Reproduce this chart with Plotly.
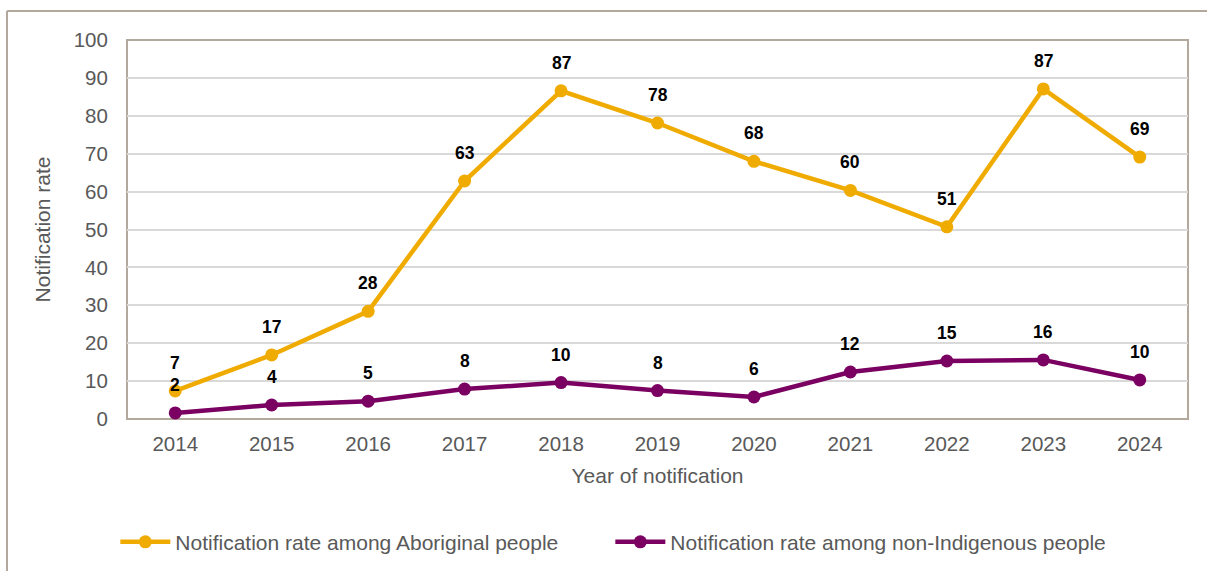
import plotly.graph_objects as go

# Notification rates by year of notification
years = ["2014", "2015", "2016", "2017", "2018", "2019", "2020", "2021", "2022", "2023", "2024"]
aboriginal_rate = [7.4, 16.9, 28.4, 62.8, 86.6, 78.1, 68.0, 60.3, 50.7, 87.1, 69.1]
non_indigenous_rate = [1.6, 3.7, 4.7, 7.9, 9.6, 7.5, 5.8, 12.4, 15.3, 15.6, 10.3]

series_names = [
    "Notification rate among Aboriginal people",
    "Notification rate among non-Indigenous people",
]
y_ticks = [0, 10, 20, 30, 40, 50, 60, 70, 80, 90, 100]

GOLD = "#F0AB00"
PURPLE = "#7A0062"
FRAME = "#B3A89C"
TEXT_GREY = "#595959"
FONT = "Liberation Sans, Arial, sans-serif"

fig = go.Figure()
for name, values, colour in [
    (series_names[0], aboriginal_rate, GOLD),
    (series_names[1], non_indigenous_rate, PURPLE),
]:
    fig.add_trace(go.Scatter(
        x=years, y=values, name=name, mode="lines+markers",
        line=dict(color=colour, width=4.5),
        marker=dict(color=colour, size=13),
        cliponaxis=False,
    ))
    # value labels above each point (category index on the x axis)
    for i, v in enumerate(values):
        fig.add_annotation(
            x=i, y=v, text=f"<b>{round(v)}</b>", showarrow=False,
            yshift=28, font=dict(family=FONT, size=17.5, color="#000000"),
        )

# outer frame around the figure area
fig.add_shape(type="line", xref="paper", yref="paper",
              x0=-0.1131, x1=1.03, y0=1.0765, y1=1.0765,
              line=dict(color=FRAME, width=2))
fig.add_shape(type="line", xref="paper", yref="paper",
              x0=-0.1131, x1=-0.1131, y0=1.0765, y1=-0.45,
              line=dict(color=FRAME, width=2))
# plot area border
fig.add_shape(type="rect", xref="paper", yref="paper",
              x0=0, x1=1, y0=0, y1=1, line=dict(color=FRAME, width=2),
              layer="below")

fig.update_layout(
    width=1207, height=571,
    margin=dict(l=127, r=19, t=40, b=152, autoexpand=False),
    paper_bgcolor="white", plot_bgcolor="white",
    font=dict(family=FONT, size=20.5, color=TEXT_GREY),
    showlegend=True,
    legend=dict(
        orientation="h", x=-0.011, y=-0.325, xanchor="left", yanchor="middle",
        font=dict(family=FONT, size=21, color=TEXT_GREY),
        itemwidth=50, tracegroupgap=0,
        entrywidth=430,
    ),
    xaxis=dict(
        type="category", range=[-0.5, 10.5],
        showgrid=False, showline=False, zeroline=False,
        ticks="outside", ticklen=6, tickcolor="rgba(0,0,0,0)",
        tickfont=dict(size=20.5, color=TEXT_GREY),
        title=dict(text="Year of notification", standoff=14,
                   font=dict(size=21, color=TEXT_GREY)),
    ),
    yaxis=dict(
        range=[0, 100], tickvals=y_ticks,
        showgrid=True, gridcolor="#D9D9D9", gridwidth=1.5,
        showline=False, zeroline=False,
        ticks="outside", ticklen=14, tickcolor="rgba(0,0,0,0)",
        tickfont=dict(size=20.5, color=TEXT_GREY),
        title=dict(text="Notification rate", standoff=17,
                   font=dict(size=21, color=TEXT_GREY)),
    ),
)

fig.write_html("out.html")
